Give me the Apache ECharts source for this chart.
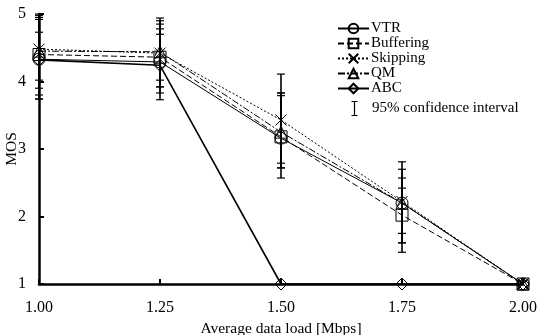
<!DOCTYPE html>
<html><head><meta charset="utf-8">
<script src="https://cdn.jsdelivr.net/npm/echarts@6/dist/echarts.min.js"></script>
<style>html,body{margin:0;padding:0;background:#fff}#c{width:537px;height:335px}</style>
</head><body><div id="c"></div>
<script>
var loads = [1.00, 1.25, 1.50, 1.75, 2.00];
var vtr = [4.33, 4.29, 3.16, 2.20, 1.00];
var buffering = [4.40, 4.36, 3.18, 2.02, 1.00];
var skipping = [4.48, 4.42, 3.43, 2.22, 1.00];
var qm = [4.45, 4.44, 3.25, 2.20, 1.00];
var abc = [4.32, 4.24, 1.00, 1.00, 1.00];
// confidence interval [lower, upper] per series per load
var vtrCI = [[3.74, 4.92], [3.83, 4.85], [2.72, 3.79], [1.61, 2.57], [1.00, 1.00]];
var bufferingCI = [[3.80, 4.95], [3.92, 4.78], [2.57, 3.83], [1.47, 2.42], [1.00, 1.00]];
var skippingCI = [[4.02, 5.00], [4.02, 4.94], [2.79, 4.11], [1.75, 2.81], [1.00, 1.00]];
var qmCI = [[3.90, 4.98], [3.92, 4.90], [2.72, 3.83], [1.61, 2.70], [1.00, 1.00]];
var abcCI = [[3.74, 4.73], [3.73, 4.70], [1.00, 1.00], [1.00, 1.00], [1.00, 1.00]];
var xTickLabels = ['1.00', '1.25', '1.50', '1.75', '2.00'];

var names = ['VTR', 'Buffering', 'Skipping', 'QM', 'ABC'];
var values = [vtr, buffering, skipping, qm, abc];
var cis = [vtrCI, bufferingCI, skippingCI, qmCI, abcCI];
var symbols = ['circle', 'rect', 'path://M0,0L10,10M10,0L0,10', 'triangle', 'diamond'];
var lineTypes = ['solid', [6, 3], [2, 2], [7, 2, 2, 2], 'solid'];
var lineWidths = [1, 1, 1, 1, 1.6];
var FONT = 'Liberation Serif';
var CI_NAME = '95% confidence interval';

var series = [];
names.forEach(function (n, i) {
  series.push({
    name: n, type: 'line',
    data: loads.map(function (x, j) { return [x, values[i][j]]; }),
    symbol: symbols[i], symbolSize: i === 2 ? 11 : 12,
    showAllSymbol: true,
    clip: false,
    lineStyle: { color: '#000', width: lineWidths[i], type: lineTypes[i] },
    itemStyle: { color: 'rgba(255,255,255,0)', borderColor: '#000', borderWidth: 1 },
    z: 3
  });
});
var ciData = [];
cis.forEach(function (ci, i) {
  ci.forEach(function (r, j) {
    if (r[1] > r[0]) ciData.push([loads[j], r[0], r[1]]);
  });
});
series.push({
  name: CI_NAME, type: 'custom',
  data: ciData,
  renderItem: function (params, api) {
    var x = api.value(0);
    var lo = api.coord([x, api.value(1)]);
    var hi = api.coord([x, api.value(2)]);
    var w = 4;
    return { type: 'group', children: [
      { type: 'line', shape: { x1: lo[0], y1: lo[1], x2: hi[0], y2: hi[1] }, style: { stroke: '#000', lineWidth: 1.6 } },
      { type: 'line', shape: { x1: lo[0] - w, y1: lo[1], x2: lo[0] + w, y2: lo[1] }, style: { stroke: '#000', lineWidth: 1.2 } },
      { type: 'line', shape: { x1: hi[0] - w, y1: hi[1], x2: hi[0] + w, y2: hi[1] }, style: { stroke: '#000', lineWidth: 1.2 } }
    ] };
  },
  itemStyle: { color: '#000' },
  z: 2
});

var legendText = { fontFamily: FONT, fontSize: 15, color: '#000', padding: [0, 0, 0, -3] };
var chart = echarts.init(document.getElementById('c'));
chart.setOption({
  animation: false,
  textStyle: { fontFamily: FONT },
  grid: { left: 39, right: 14, top: 14, bottom: 51, containLabel: false, outerBoundsMode: 'none' },
  legend: [{
    orient: 'vertical', left: 337, top: 21, itemGap: 0, padding: 0,
    itemWidth: 31, itemHeight: 12,
    textStyle: legendText,
    data: names
  }, {
    orient: 'vertical', left: 349, top: 99, padding: 0,
    itemWidth: 31, itemHeight: 14,
    textStyle: legendText,
    data: [{ name: CI_NAME, icon: 'path://M0,0L6,0M3,0L3,14M0,14L6,14', itemStyle: { color: 'none', borderColor: '#000', borderWidth: 1.2 } }]
  }],
  xAxis: {
    type: 'value', min: 1, max: 2, interval: 0.25,
    name: 'Average data load [Mbps]', nameLocation: 'middle', nameGap: 37,
    nameTextStyle: { fontFamily: FONT, fontSize: 15.5, color: '#000' },
    axisLine: { lineStyle: { color: '#000', width: 2.5 } },
    axisTick: { inside: true, length: 5, lineStyle: { color: '#000', width: 2 } },
    axisLabel: { fontFamily: FONT, fontSize: 16, color: '#000', margin: 16,
      formatter: function (v) { var i = Math.round((v - 1) / 0.25); return xTickLabels[i]; } },
    splitLine: { show: false }
  },
  yAxis: {
    type: 'value', min: 1, max: 5, interval: 1,
    name: 'MOS', nameLocation: 'middle', nameGap: 19, nameRotate: 90, nameMoveOverlap: false,
    nameTextStyle: { fontFamily: FONT, fontSize: 15.5, color: '#000' },
    axisLine: { show: true, lineStyle: { color: '#000', width: 2.5 } },
    axisTick: { show: true, inside: true, length: 5, lineStyle: { color: '#000', width: 2 } },
    axisLabel: { fontFamily: FONT, fontSize: 16, color: '#000', margin: 13 },
    splitLine: { show: false }
  },
  series: series
});
</script></body></html>
